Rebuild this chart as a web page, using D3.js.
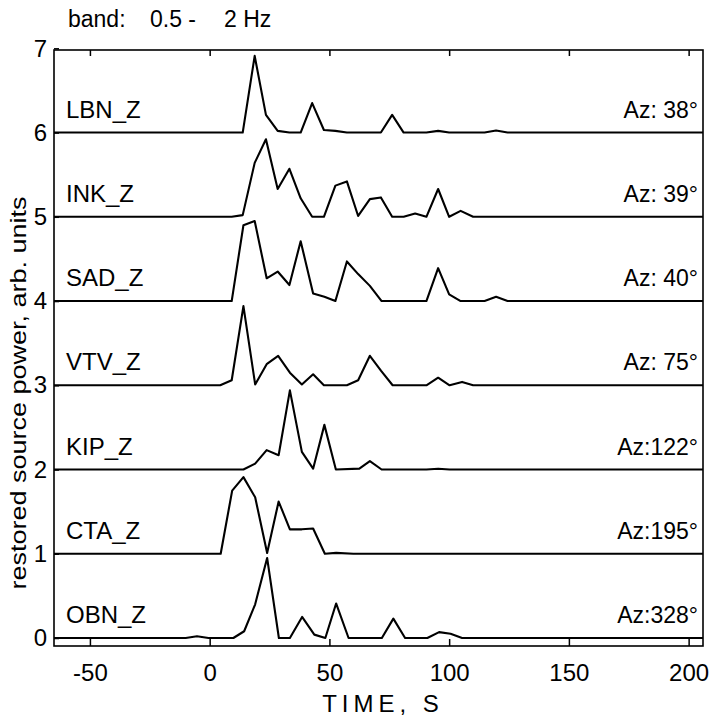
<!DOCTYPE html>
<html>
<head>
<meta charset="utf-8">
<script src="https://cdn.jsdelivr.net/npm/d3@7"></script>
<style>
  body { margin: 0; background: #fff; }
  text { font-family: "Liberation Sans", Arial, sans-serif; fill: #000; white-space: pre; }
</style>
</head>
<body>
<div id="chart"></div>
<script>
// station names, azimuth labels and vertical offsets (top to bottom)
const stations = ["LBN_Z", "INK_Z", "SAD_Z", "VTV_Z", "KIP_Z", "CTA_Z", "OBN_Z"];
const azimuths = ["Az: 38°", "Az: 39°", "Az: 40°", "Az: 75°", "Az:122°", "Az:195°", "Az:328°"];
const offsets = [6, 5, 4, 3, 2, 1, 0];

const xTicks = [-50, 0, 50, 100, 150, 200];
const yTicks = [0, 1, 2, 3, 4, 5, 6, 7];

// traces: [time s, restored power]
const lbn = [[13.8, 0], [18.8, 0.91], [23.5, 0.21], [28.4, 0.02], [33.3, 0], [38, 0], [42.8, 0.35],
  [47.7, 0.03], [52.5, 0.02], [57.3, 0], [71.5, 0], [76.2, 0.21], [81, 0], [90.5, 0], [95.4, 0.02],
  [100, 0], [114.8, 0], [119.6, 0.025], [124.4, 0]];
const ink = [[9.2, 0], [13.8, 0.02], [18.8, 0.64], [23.5, 0.92], [28.4, 0.33], [33.3, 0.57], [38, 0.22],
  [42.8, 0], [47.7, 0], [52.5, 0.37], [57.3, 0.42], [62, 0.01], [66.9, 0.21], [71.5, 0.23], [76.2, 0],
  [81, 0], [85.8, 0.04], [90.5, 0], [95.4, 0.33], [100, 0], [104.8, 0.07], [110, 0]];
const sad = [[9.2, 0], [14.1, 0.9], [18.8, 0.95], [23.8, 0.27], [28.4, 0.35], [33.3, 0.19], [38, 0.71],
  [43.2, 0.09], [47.9, 0.05], [52.5, 0], [57.3, 0.47], [62, 0.32], [66.9, 0.18], [71.8, 0], [90.5, 0],
  [95.4, 0.39], [100, 0.08], [104.8, 0], [114.8, 0], [119.6, 0.05], [124.4, 0]];
const vtv = [[4.4, 0], [9.2, 0.06], [14.1, 0.94], [19, 0.01], [23.8, 0.25], [28.6, 0.35], [33.5, 0.15],
  [38.5, 0.01], [43.2, 0.13], [47.7, 0], [57.3, 0], [62, 0.06], [66.9, 0.35], [71.6, 0.17], [76.4, 0],
  [90.5, 0], [95.4, 0.09], [100.2, 0], [105.4, 0.04], [110, 0]];
const kip = [[14.1, 0], [19, 0.07], [23.8, 0.23], [28.8, 0.17], [33.5, 0.94], [38.5, 0.21], [43.2, 0.01],
  [47.9, 0.53], [52.7, 0], [62.5, 0.01], [66.9, 0.1], [71.8, 0], [90.5, 0], [95.4, 0.01], [100.2, 0]];
const cta = [[4.6, 0], [9.4, 0.75], [14.1, 0.91], [19, 0.67], [24, 0.01], [28.8, 0.62], [33.5, 0.29],
  [38.5, 0.29], [43.2, 0.3], [48.1, 0], [52.8, 0.01], [60, 0]];
const obn = [[-10, 0], [-5.3, 0.02], [-0.5, 0], [9.9, 0], [14.4, 0.08], [19, 0.4], [24, 0.95], [28.9, 0],
  [33.5, 0], [38.6, 0.25], [43.7, 0.04], [48.3, 0], [52.8, 0.41], [58, 0], [71.9, 0], [76.7, 0.23],
  [81.6, 0], [90.9, 0], [95.8, 0.07], [100.6, 0.05], [105.4, 0]];

const traces = [lbn, ink, sad, vtv, kip, cta, obn];

const width = 714, height = 723;
const plot = { left: 54, right: 703, top: 50, bottom: 646 };

const svg = d3.select("#chart")
  .append("svg")
  .attr("width", width)
  .attr("height", height);

svg.append("rect").attr("width", width).attr("height", height).attr("fill", "#fff");

// scales
const x = d3.scaleLinear().domain([-65, 206]).range([plot.left, plot.right]);
const y = d3.scaleLinear().domain([-0.095, 6.98]).range([plot.bottom, plot.top]);

// plain hyphen for negatives, like the original figure
const plain = d => String(d);

// bottom axis with inward ticks
const xAxis = svg.append("g")
  .attr("transform", `translate(0,${plot.bottom})`)
  .call(d3.axisBottom(x).tickValues(xTicks).tickFormat(plain)
    .tickSizeInner(-7).tickSizeOuter(0).tickPadding(18));
xAxis.select(".domain").remove();
xAxis.selectAll("line").attr("stroke-width", 1.5);
xAxis.selectAll("text").attr("font-size", 24).style("font-family", "Liberation Sans, Arial, sans-serif");

// top axis, ticks only
const xTop = svg.append("g")
  .attr("transform", `translate(0,${plot.top})`)
  .call(d3.axisTop(x).tickValues(xTicks).tickSizeInner(-6).tickSizeOuter(0).tickFormat(""));
xTop.select(".domain").remove();
xTop.selectAll("line").attr("stroke-width", 1.5);

// left axis
const yAxis = svg.append("g")
  .attr("transform", `translate(${plot.left},0)`)
  .call(d3.axisLeft(y).tickValues(yTicks).tickFormat(plain)
    .tickSizeInner(-5).tickSizeOuter(0).tickPadding(7));
yAxis.select(".domain").remove();
yAxis.selectAll("line").attr("stroke-width", 1.5);
yAxis.selectAll("text").attr("font-size", 24).style("font-family", "Liberation Sans, Arial, sans-serif");

// frame
svg.append("rect")
  .attr("x", plot.left).attr("y", plot.top)
  .attr("width", plot.right - plot.left).attr("height", plot.bottom - plot.top)
  .attr("fill", "none").attr("stroke", "#000").attr("stroke-width", 1.6);

// traces, each padded with a flat baseline out to the edges of the time axis
const [t0, t1] = x.domain();
traces.forEach((tr, i) => {
  const off = offsets[i];
  const pts = [[t0, 0], ...tr, [t1, 0]];
  const line = d3.line()
    .x(d => x(d[0]))
    .y(d => y(d[1] + off));
  svg.append("path")
    .datum(pts)
    .attr("d", line)
    .attr("fill", "none")
    .attr("stroke", "#000")
    .attr("stroke-width", 2.1)
    .attr("stroke-linejoin", "round");

  svg.append("text")
    .attr("x", 66)
    .attr("y", y(off) - 15)
    .attr("font-size", 24)
    .text(stations[i]);

  svg.append("text")
    .attr("x", 698)
    .attr("y", y(off) - 15)
    .attr("text-anchor", "end")
    .attr("font-size", 23)
    .text(azimuths[i]);
});

// title
const title = svg.append("text").attr("y", 27).attr("font-size", 23);
title.append("tspan").attr("x", 68).text("band:");
title.append("tspan").attr("x", 150).text("0.5 -");
title.append("tspan").attr("x", 224).text("2 Hz");

// axis titles
svg.append("text")
  .attr("x", 383)
  .attr("y", 712)
  .attr("text-anchor", "middle")
  .attr("font-size", 24)
  .attr("letter-spacing", 5)
  .text("TIME, S");

svg.append("text")
  .attr("transform", "translate(26,393) rotate(-90)")
  .attr("text-anchor", "middle")
  .attr("font-size", 22)
  .attr("textLength", 393)
  .attr("lengthAdjust", "spacingAndGlyphs")
  .text("restored source power, arb. units");
</script>
</body>
</html>
